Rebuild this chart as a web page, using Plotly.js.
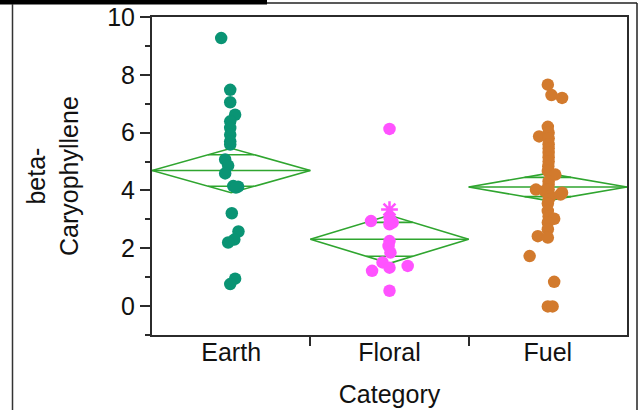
<!DOCTYPE html>
<html>
<head>
<meta charset="utf-8">
<script src="https://cdn.plot.ly/plotly-3.0.1.min.js"></script>
<style>html,body{margin:0;padding:0;background:#fff;}#chart{width:639px;height:410px;}</style>
</head>
<body>
<div id="chart"></div>
<script>
const categories = ['Earth', 'Floral', 'Fuel'];

const earthY = [9.27, 7.48, 7.05, 6.62, 6.39, 6.16, 5.93, 5.70, 5.59, 5.07, 4.86, 4.59, 4.15, 4.13, 4.10, 3.21, 2.58, 2.30, 2.20, 0.95, 0.76];
const earthJitter = [-0.063, -0.006, -0.006, 0.025, -0.006, -0.006, -0.006, -0.006, -0.006, -0.038, -0.019, -0.038, 0.013, 0.044, 0.030, 0.004, 0.046, 0.020, -0.019, 0.025, -0.006];

const floralY = [6.13, 3.06, 2.94, 2.89, 2.83, 2.25, 2.08, 1.85, 1.51, 1.39, 1.33, 1.22, 0.53];
const floralJitter = [0.0, 0.0, -0.117, 0.02, 0.0, 0.0, -0.006, 0.006, -0.044, 0.115, 0.0, -0.11, 0.0];
const floralStarY = [3.34];
const floralStarJitter = [0.0];

const fuelY = [7.66, 7.30, 7.20, 6.20, 5.87, 6.00, 5.80, 5.60, 5.45, 5.30, 5.15, 5.00, 4.84, 4.67, 4.55, 4.32, 4.20, 4.03, 4.03, 3.98, 3.92, 3.86, 3.80, 3.69, 3.55, 3.29, 3.10, 3.02, 2.89, 2.66, 2.42, 2.37, 1.73, 0.84, -0.01, -0.01];
const fuelJitter = [0.0, 0.023, 0.09, 0.0, -0.055, 0.005, 0.005, 0.005, 0.005, 0.005, 0.005, 0.005, 0.003, 0.0, 0.047, 0.005, 0.005, -0.075, 0.005, -0.02, 0.09, 0.08, 0.015, 0.005, 0.0, 0.0, 0.005, 0.04, 0.0, 0.0, -0.063, 0.0, -0.115, 0.04, 0.0, 0.03];

const groupMeans = [4.69, 2.31, 4.12];
const groupCI = [0.77, 0.83, 0.47];

const yTickVals = [0, 2, 4, 6, 8, 10];
const yTickText = ['0', '2', '4', '6', '8', '10'];

const groupColors = ['#0a9474', '#ff52ff', '#d27a2d'];
const diamondColor = '#2fa52f';
const axisColor = '#2b2b2b';
const FONT = 'Liberation Sans, Arial, sans-serif';

const traces = [];

// Means diamonds
groupMeans.forEach(function (m, i) {
  const c = groupCI[i];
  const ov = c / Math.SQRT2;
  const hw = 0.5 * (1 - 1 / Math.SQRT2);
  const xs = [i - 0.5, i, i + 0.5, i, i - 0.5, null, i - 0.5, i + 0.5, null,
              i - hw, i + hw, null, i - hw, i + hw];
  const ys = [m, m + c, m, m - c, m, null, m, m, null,
              m + ov, m + ov, null, m - ov, m - ov];
  traces.push({
    x: xs, y: ys, type: 'scatter', mode: 'lines',
    line: {color: diamondColor, width: 1.6},
    hoverinfo: 'skip', showlegend: false
  });
});

function pts(ys, jit, idx, extra) {
  const t = {
    x: ys.map(function (_, k) { return idx + jit[k]; }),
    y: ys, type: 'scatter', mode: 'markers',
    marker: {color: groupColors[idx], size: 12.5, line: {width: 0}},
    showlegend: false, name: categories[idx]
  };
  return Object.assign(t, extra || {});
}

traces.push(pts(earthY, earthJitter, 0));
traces.push(pts(floralY, floralJitter, 1));
traces.push(pts(fuelY, fuelJitter, 2));
traces.push(pts(floralStarY, floralStarJitter, 1, {
  marker: {symbol: 'asterisk-open', size: 14, color: groupColors[1], line: {color: groupColors[1], width: 2.5}}
}));

// pixel -> paper helpers for the outer frame
const L = 152, R = 12, T = 17, B = 75, W = 639, H = 410;
const pw = W - L - R, ph = H - T - B;
function px(x) { return (x - L) / pw; }
function py(y) { return (H - B - y) / ph; }

const layout = {
  width: W, height: H,
  margin: {l: L, r: R, t: T, b: B, pad: 0},
  paper_bgcolor: '#ffffff', plot_bgcolor: '#ffffff',
  font: {family: FONT, size: 25, color: '#111111'},
  showlegend: false,
  xaxis: {
    type: 'linear', range: [-0.5, 2.5],
    tickmode: 'array', tickvals: [0, 1, 2], ticktext: categories,
    ticks: '', ticklabelstandoff: -6,
    minor: {tickmode: 'array', tickvals: [0.5, 1.5], ticks: 'outside', ticklen: 9, tickwidth: 2, tickcolor: axisColor, showgrid: false},
    showgrid: false, zeroline: false,
    showline: true, mirror: true, linecolor: axisColor, linewidth: 2,
    tickfont: {family: FONT, size: 25, color: '#111111'},
    title: {text: 'Category', font: {family: FONT, size: 25, color: '#111111'}, standoff: 20}
  },
  yaxis: {
    range: [-1, 10],
    tickmode: 'array', tickvals: yTickVals, ticktext: yTickText,
    ticks: 'outside', ticklen: 10, tickwidth: 2, tickcolor: axisColor,
    minor: {tickmode: 'linear', tick0: -1, dtick: 2, ticks: 'outside', ticklen: 5, tickwidth: 2, tickcolor: axisColor, showgrid: false},
    showgrid: false, zeroline: false,
    showline: true, mirror: true, linecolor: axisColor, linewidth: 2,
    tickfont: {family: FONT, size: 25, color: '#111111'}
  },
  annotations: [{
    text: 'beta-<br>Caryophyllene', textangle: -90,
    xref: 'paper', yref: 'paper', x: px(52), y: 0.5,
    xanchor: 'center', yanchor: 'middle', showarrow: false, align: 'center',
    font: {family: FONT, size: 25, color: '#111111'}
  }],
  shapes: [
    {type: 'rect', xref: 'paper', yref: 'paper', x0: px(-2), x1: px(267), y0: py(4.5), y1: py(-2), fillcolor: '#000000', line: {width: 0}},
    {type: 'line', xref: 'paper', yref: 'paper', x0: px(267), x1: px(637), y0: py(3), y1: py(3), line: {color: '#222222', width: 1.5}},
    {type: 'line', xref: 'paper', yref: 'paper', x0: px(637), x1: px(637), y0: py(3), y1: py(412), line: {color: '#222222', width: 1.5}},
    {type: 'line', xref: 'paper', yref: 'paper', x0: px(12.5), x1: px(12.5), y0: py(4), y1: py(412), line: {color: '#333333', width: 1.5}}
  ]
};

Plotly.newPlot('chart', traces, layout, {staticPlot: true, displayModeBar: false});
</script>
</body>
</html>
